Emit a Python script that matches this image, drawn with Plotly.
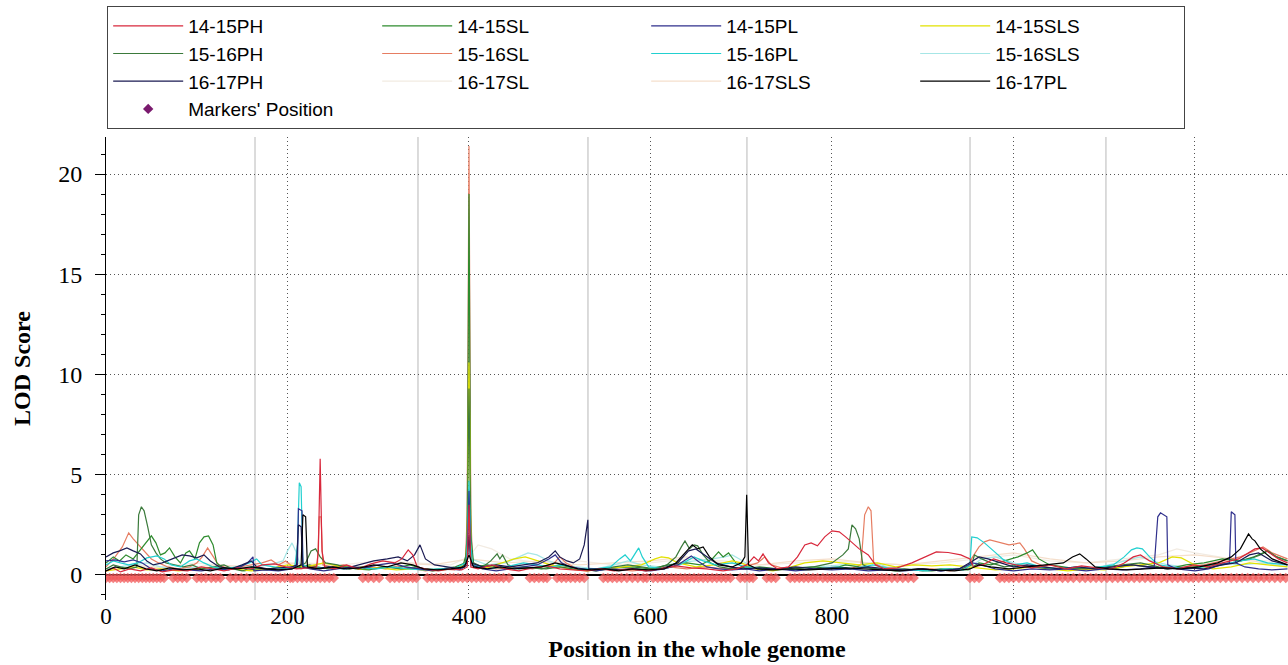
import plotly.graph_objects as go

# ---------------- data (position in genome, LOD score) ----------------
PH_1415 = [(0,0.2),(8,0.35),(16,0.15),(26,0.3),(38,0.2),(50,0.35),(62,0.15),(75,0.25),(90,0.2),(105,0.4),(118,0.3),(130,0.2),(145,0.35),(160,0.3),(172,0.5),(186,0.55),(198,0.4),(210,0.3),(222,0.35),(232,0.4),(234,1.2),(236,5.8),(238,1.2),(241,0.4),(252,0.3),(265,0.5),(278,0.3),(292,0.55),(305,0.7),(318,0.6),(326,0.8),(333,1.25),(338,1.0),(343,0.4),(352,0.3),(366,0.2),(380,0.3),(392,0.25),(398,0.4),(400,3.5),(402,0.4),(410,0.3),(425,0.5),(440,0.3),(455,0.2),(470,0.35),(485,0.45),(500,0.3),(515,0.25),(530,0.2),(545,0.3),(560,0.2),(578,0.3),(595,0.2),(612,0.3),(628,0.45),(645,0.35),(662,0.3),(680,0.2),(695,0.3),(706,0.5),(714,0.9),(719,0.7),(724,1.05),(730,0.6),(740,0.3),(752,0.4),(762,0.9),(770,1.5),(777,1.6),(784,1.45),(792,1.9),(800,2.2),(808,2.15),(815,1.9),(822,1.6),(830,1.3),(840,1.0),(848,0.5),(858,0.3),(872,0.35),(888,0.6),(902,0.9),(915,1.15),(928,1.12),(942,1.0),(952,0.8),(956,0.4),(966,0.5),(978,0.8),(992,0.6),(1005,0.5),(1020,0.35),(1040,0.5),(1058,0.3),(1075,0.45),(1092,0.35),(1108,0.3),(1122,0.6),(1132,0.9),(1140,1.0),(1150,0.7),(1165,0.4),(1182,0.3),(1198,0.5),(1215,0.4),(1230,0.6),(1248,0.8),(1258,1.1),(1266,1.3),(1274,1.35),(1282,1.1),(1292,0.8),(1302,0.6)]

SL_1415 = [(0,0.6),(8,0.9),(15,0.7),(22,1.0),(30,0.8),(40,1.4),(46,1.75),(50,1.95),(55,1.6),(60,1.0),(65,1.1),(70,1.35),(76,0.9),(82,0.6),(88,1.1),(92,1.2),(98,0.8),(103,1.6),(108,1.9),(113,1.95),(118,1.5),(122,0.6),(130,0.3),(140,0.35),(152,0.2),(165,0.3),(178,0.25),(190,0.4),(200,0.3),(212,0.35),(224,0.5),(232,0.4),(245,0.3),(260,0.45),(275,0.3),(290,0.25),(305,0.4),(320,0.35),(335,0.5),(350,0.3),(365,0.25),(380,0.3),(393,0.4),(398,1.2),(400,19.0),(402,1.2),(406,0.4),(420,0.5),(440,0.3),(460,0.4),(480,0.3),(500,0.5),(520,0.3),(540,0.2),(560,0.35),(580,0.4),(600,0.3),(620,0.5),(640,0.6),(655,0.5),(668,0.8),(675,1.15),(680,0.9),(686,1.1),(694,0.6),(705,0.3),(720,0.4),(740,0.3),(760,0.35),(780,0.4),(800,0.3),(815,0.5),(830,0.4),(850,0.3),(870,0.2),(890,0.25),(910,0.2),(930,0.3),(950,0.25),(962,0.6),(975,0.5),(990,0.7),(1005,0.9),(1015,1.1),(1021,1.25),(1028,0.8),(1040,0.5),(1055,0.4),(1070,0.3),(1090,0.35),(1110,0.3),(1130,0.5),(1150,0.4),(1170,0.3),(1190,0.5),(1210,0.6),(1230,0.8),(1250,0.7),(1265,0.9),(1280,1.2),(1290,0.9),(1302,0.7)]

PL_1415 = [(0,0.7),(10,0.75),(20,0.65),(30,0.75),(40,0.6),(50,0.3),(62,0.2),(75,0.3),(90,0.25),(105,0.2),(120,0.3),(135,0.25),(148,0.4),(156,0.6),(162,0.9),(163,0.2),(175,0.25),(190,0.2),(205,0.3),(211,0.5),(212,3.3),(216,3.2),(217,0.4),(225,0.3),(240,0.2),(255,0.3),(270,0.4),(285,0.35),(300,0.5),(315,0.6),(330,0.4),(345,0.3),(360,0.2),(375,0.3),(390,0.25),(398,0.5),(400,4.2),(402,0.5),(415,0.3),(430,0.2),(445,0.3),(460,0.4),(475,0.5),(488,0.8),(495,1.0),(502,0.6),(512,0.4),(525,0.3),(540,0.2),(555,0.3),(570,0.25),(585,0.3),(600,0.2),(615,0.3),(630,0.5),(640,0.8),(645,0.95),(652,0.7),(662,0.4),(675,0.3),(690,0.25),(705,0.3),(720,0.2),(740,0.3),(760,0.2),(780,0.3),(800,0.25),(820,0.3),(840,0.2),(860,0.25),(880,0.2),(900,0.3),(920,0.2),(940,0.3),(955,0.6),(965,0.5),(980,0.3),(1000,0.2),(1020,0.3),(1040,0.25),(1060,0.3),(1080,0.2),(1100,0.3),(1120,0.25),(1140,0.3),(1155,0.4),(1159,2.9),(1162,3.1),(1166,3.0),(1169,2.9),(1170,0.5),(1180,0.3),(1200,0.2),(1215,0.3),(1228,0.5),(1238,0.6),(1240,3.15),(1244,3.0),(1245,0.6),(1255,0.4),(1270,0.3),(1285,0.25),(1302,0.3)]

SLS_1415 = [(0,0.2),(15,0.3),(30,0.4),(45,0.25),(60,0.3),(80,0.2),(100,0.3),(120,0.4),(140,0.3),(160,0.2),(180,0.3),(200,0.5),(220,0.4),(240,0.6),(260,0.4),(280,0.3),(300,0.35),(320,0.25),(340,0.3),(360,0.2),(380,0.3),(396,0.5),(398,2.0),(400,10.6),(402,2.0),(404,0.5),(415,0.3),(430,0.5),(450,0.8),(462,0.9),(475,0.7),(490,0.5),(510,0.3),(530,0.2),(550,0.3),(570,0.4),(590,0.5),(605,0.8),(612,0.9),(620,0.85),(630,0.6),(650,0.4),(670,0.5),(690,0.7),(700,0.6),(715,0.3),(735,0.2),(755,0.4),(770,0.6),(790,0.7),(810,0.6),(830,0.5),(850,0.6),(870,0.4),(890,0.5),(910,0.45),(930,0.5),(950,0.4),(965,0.3),(980,0.25),(1000,0.3),(1020,0.4),(1040,0.3),(1060,0.2),(1080,0.3),(1100,0.25),(1120,0.4),(1140,0.5),(1160,0.6),(1175,0.9),(1185,0.85),(1200,0.5),(1220,0.3),(1240,0.4),(1260,0.6),(1280,0.5),(1302,0.4)]

PH_1516 = [(0,0.3),(8,0.5),(16,0.4),(26,0.3),(34,0.4),(36,3.0),(39,3.4),(42,3.2),(46,2.4),(50,1.5),(55,1.1),(60,0.8),(66,0.6),(75,0.5),(85,0.4),(95,0.5),(105,0.3),(118,0.4),(130,0.5),(140,0.3),(150,0.2),(162,0.4),(175,0.3),(188,0.25),(200,0.3),(212,0.4),(220,0.6),(226,1.2),(231,1.3),(236,0.9),(242,0.6),(255,0.5),(268,0.3),(282,0.4),(296,0.3),(310,0.4),(325,0.3),(340,0.35),(355,0.25),(370,0.3),(385,0.4),(396,0.6),(398,2.0),(400,9.3),(402,2.0),(405,0.6),(415,0.4),(424,0.7),(431,1.05),(434,0.8),(437,1.0),(443,0.5),(455,0.3),(470,0.35),(485,0.3),(500,0.4),(515,0.3),(530,0.25),(545,0.3),(560,0.4),(575,0.5),(590,0.4),(605,0.3),(618,0.5),(628,0.9),(634,1.4),(638,1.7),(643,1.3),(648,1.5),(652,1.45),(658,1.0),(666,0.6),(676,0.4),(690,0.3),(705,0.4),(720,0.3),(740,0.25),(760,0.3),(780,0.4),(800,0.6),(812,1.0),(818,1.3),(822,2.5),(826,2.3),(830,1.8),(834,0.5),(845,0.3),(860,0.25),(880,0.3),(900,0.2),(920,0.3),(940,0.25),(954,0.5),(957,1.0),(965,0.8),(975,0.6),(990,0.4),(1005,0.5),(1020,0.4),(1040,0.3),(1060,0.35),(1080,0.3),(1100,0.4),(1120,0.5),(1140,0.6),(1160,0.4),(1180,0.3),(1200,0.4),(1220,0.5),(1240,0.6),(1260,0.8),(1272,1.0),(1280,1.2),(1290,0.9),(1302,0.7)]

SL_1516 = [(0,0.4),(10,0.9),(18,1.4),(25,2.1),(30,1.8),(36,1.5),(42,1.2),(50,0.8),(58,0.6),(68,0.4),(80,0.3),(92,0.4),(100,0.6),(106,0.9),(112,1.35),(117,1.0),(124,0.5),(135,0.3),(148,0.4),(160,0.5),(172,0.6),(182,0.75),(190,0.5),(198,0.7),(206,0.4),(215,0.3),(226,0.4),(233,0.5),(235,2.9),(237,2.9),(239,0.5),(248,0.4),(262,0.5),(278,0.3),(292,0.4),(308,0.3),(322,0.45),(338,0.3),(352,0.2),(368,0.3),(384,0.25),(396,0.5),(398,3.0),(400,21.4),(402,3.0),(404,0.5),(415,0.4),(430,0.3),(450,0.4),(470,0.3),(492,0.5),(500,0.9),(507,0.6),(520,0.3),(540,0.25),(560,0.3),(580,0.2),(600,0.3),(620,0.4),(640,0.3),(660,0.4),(680,0.3),(700,0.35),(718,0.6),(726,0.9),(733,0.5),(748,0.3),(765,0.25),(785,0.3),(805,0.4),(820,0.3),(832,0.5),(836,3.0),(840,3.4),(843,3.2),(846,0.6),(855,0.4),(870,0.3),(890,0.25),(910,0.3),(930,0.2),(948,0.3),(955,0.9),(962,1.4),(968,1.65),(974,1.75),(985,1.6),(995,1.5),(1002,1.55),(1007,1.6),(1012,1.3),(1020,0.7),(1035,0.4),(1050,0.3),(1070,0.25),(1090,0.3),(1110,0.4),(1130,0.5),(1150,0.4),(1170,0.3),(1190,0.4),(1210,0.5),(1230,0.7),(1250,0.9),(1265,1.2),(1275,1.4),(1285,1.1),(1302,0.8)]

PL_1516 = [(0,0.5),(8,0.7),(16,0.6),(25,0.5),(35,0.6),(45,0.85),(56,0.95),(64,0.8),(72,0.5),(82,0.4),(92,0.7),(100,0.8),(108,0.6),(118,0.4),(130,0.3),(145,0.4),(158,0.6),(166,0.8),(172,0.5),(185,0.4),(198,0.3),(208,0.4),(211,1.5),(213,4.6),(215,4.4),(217,0.5),(228,0.3),(245,0.4),(262,0.3),(280,0.35),(298,0.3),(315,0.4),(332,0.3),(350,0.25),(368,0.3),(385,0.35),(397,0.6),(398,1.5),(400,4.7),(402,1.5),(404,0.5),(420,0.3),(440,0.4),(460,0.6),(475,0.5),(490,0.4),(505,0.5),(520,0.3),(540,0.3),(556,0.4),(566,0.8),(572,1.0),(578,0.7),(584,1.1),(587,1.35),(591,0.9),(598,0.4),(615,0.3),(632,0.5),(648,0.9),(658,0.7),(672,0.5),(690,0.6),(705,0.4),(725,0.3),(745,0.3),(765,0.25),(785,0.3),(805,0.4),(825,0.3),(845,0.5),(865,0.3),(885,0.25),(905,0.2),(925,0.3),(945,0.25),(952,0.5),(954,1.9),(960,1.85),(968,1.6),(978,1.2),(988,0.8),(1000,0.5),(1015,0.6),(1030,0.4),(1050,0.3),(1070,0.4),(1090,0.35),(1110,0.5),(1122,0.9),(1130,1.25),(1136,1.35),(1142,1.3),(1150,0.9),(1160,0.5),(1175,0.4),(1190,0.3),(1210,0.4),(1230,0.5),(1250,0.7),(1265,0.8),(1280,0.6),(1302,0.5)]

SLS_1516 = [(0,0.3),(15,0.4),(30,0.5),(45,0.6),(60,0.4),(80,0.3),(100,0.4),(120,0.3),(140,0.35),(160,0.4),(180,0.5),(195,0.7),(200,1.2),(205,1.6),(209,1.2),(214,0.5),(230,0.4),(250,0.3),(270,0.4),(290,0.3),(310,0.35),(330,0.4),(350,0.3),(370,0.25),(390,0.3),(398,0.8),(400,1.5),(402,0.8),(420,0.5),(440,0.6),(455,0.9),(465,1.1),(475,1.0),(488,0.7),(500,0.5),(520,0.4),(540,0.3),(560,0.5),(575,0.7),(590,0.5),(610,0.4),(630,0.6),(650,0.7),(668,0.8),(682,0.9),(690,1.0),(698,0.8),(712,0.4),(735,0.3),(760,0.35),(785,0.4),(810,0.5),(830,0.5),(848,0.6),(860,0.4),(880,0.3),(905,0.25),(930,0.3),(950,0.35),(965,0.8),(980,0.9),(1000,0.6),(1020,0.4),(1045,0.35),(1070,0.3),(1095,0.4),(1115,0.6),(1130,0.8),(1140,0.9),(1152,0.7),(1170,0.5),(1190,0.4),(1210,0.5),(1230,0.6),(1250,0.5),(1275,0.6),(1302,0.4)]

PH_1617 = [(0,0.9),(8,1.1),(15,1.2),(23,1.35),(30,1.2),(38,1.05),(45,0.7),(52,0.5),(62,0.6),(72,0.8),(84,1.0),(92,0.95),(100,0.85),(108,1.0),(115,0.7),(125,0.4),(138,0.3),(150,0.5),(160,0.7),(166,0.4),(178,0.3),(192,0.35),(205,0.4),(210,0.5),(212,2.5),(215,2.4),(217,0.4),(230,0.3),(245,0.4),(262,0.3),(280,0.5),(295,0.7),(310,0.8),(322,0.9),(332,0.7),(340,1.0),(346,1.5),(352,0.8),(362,0.5),(375,0.4),(390,0.3),(398,0.6),(400,2.0),(402,0.6),(415,0.4),(430,0.5),(445,0.4),(460,0.5),(475,0.6),(488,0.9),(495,1.2),(500,0.9),(508,0.7),(515,0.6),(522,0.8),(527,1.5),(531,2.75),(532,0.3),(545,0.3),(560,0.25),(578,0.3),(595,0.2),(612,0.3),(630,0.6),(642,1.2),(650,1.3),(660,1.0),(672,0.6),(688,0.4),(702,0.3),(720,0.35),(740,0.3),(760,0.4),(780,0.3),(800,0.35),(820,0.3),(840,0.4),(860,0.3),(880,0.25),(900,0.3),(920,0.2),(940,0.3),(955,0.7),(962,0.9),(972,0.8),(985,0.6),(1000,0.4),(1015,0.5),(1030,0.4),(1050,0.3),(1070,0.4),(1090,0.3),(1110,0.4),(1130,0.5),(1150,0.4),(1170,0.3),(1190,0.35),(1210,0.3),(1230,0.5),(1245,0.6),(1260,1.0),(1270,1.1),(1285,0.7),(1302,0.5)]

SL_1617 = [(0,0.3),(30,0.5),(60,0.4),(100,0.6),(140,0.4),(180,0.5),(220,0.6),(260,0.5),(300,0.7),(340,0.6),(380,0.5),(400,0.9),(410,1.5),(425,1.3),(445,0.8),(480,0.6),(520,0.7),(560,0.5),(600,0.6),(640,0.8),(680,0.7),(720,0.5),(760,0.6),(800,0.7),(840,0.6),(880,0.5),(920,0.6),(960,0.8),(1000,1.0),(1040,0.7),(1080,0.6),(1120,0.8),(1160,1.0),(1180,1.3),(1200,1.1),(1240,0.8),(1280,0.7),(1302,0.6)]

SLS_1617 = [(0,0.2),(40,0.4),(80,0.3),(120,0.5),(160,0.4),(200,0.6),(240,0.5),(280,0.4),(320,0.6),(360,0.5),(400,0.8),(440,0.6),(480,0.7),(520,0.5),(560,0.6),(600,0.7),(640,0.9),(680,0.6),(720,0.5),(760,0.7),(800,0.8),(840,0.6),(880,0.5),(920,0.7),(960,0.9),(1000,1.1),(1040,0.8),(1080,0.6),(1120,0.7),(1160,0.9),(1200,1.0),(1240,0.8),(1280,0.6),(1302,0.5)]

PL_1617 = [(0,0.2),(10,0.4),(20,0.3),(32,0.5),(44,0.3),(56,0.2),(70,0.35),(85,0.25),(100,0.3),(115,0.2),(130,0.35),(145,0.3),(160,0.4),(175,0.3),(190,0.25),(205,0.3),(215,0.5),(217,3.0),(220,2.9),(222,0.4),(235,0.3),(250,0.4),(265,0.3),(280,0.35),(295,0.5),(310,0.4),(325,0.6),(338,0.5),(350,0.3),(365,0.25),(380,0.3),(395,0.4),(400,1.0),(405,0.4),(420,0.3),(435,0.4),(450,0.3),(465,0.35),(480,0.4),(495,0.6),(505,0.5),(520,0.3),(535,0.25),(550,0.3),(565,0.2),(580,0.3),(598,0.25),(615,0.3),(628,0.6),(640,1.2),(646,1.5),(652,1.3),(658,1.4),(665,0.9),(675,0.5),(690,0.4),(700,0.6),(704,0.9),(706,4.0),(708,0.5),(718,0.3),(735,0.25),(755,0.3),(775,0.25),(795,0.3),(815,0.35),(835,0.3),(855,0.25),(875,0.2),(895,0.3),(915,0.25),(935,0.2),(952,0.3),(962,0.5),(975,0.4),(995,0.3),(1015,0.4),(1035,0.5),(1055,0.6),(1065,0.9),(1073,1.05),(1080,0.8),(1090,0.4),(1105,0.3),(1125,0.25),(1145,0.3),(1165,0.35),(1185,0.3),(1205,0.4),(1225,0.6),(1240,0.9),(1250,1.3),(1256,1.8),(1259,2.05),(1263,1.8),(1266,1.7),(1272,1.3),(1285,0.8),(1302,0.5)]

MARKER_POS = [0,4,8,12,16,20,24,28,32,36,40,44,48,52,56,60,64,
              74,79,84,89,100,105,110,116,121,126,137,143,149,155,
              162,167,172,177,182,187,192,197,203,206,211,216,221,226,231,236,241,246,251,
              283,289,295,301,313,318,323,328,333,338,342,354,359,364,369,374,379,383,388,393,
              398,403,408,413,418,423,428,433,438,444,467,472,477,482,486,
              497,502,507,512,517,522,527,548,553,558,563,568,574,580,586,592,596,
              603,608,613,618,623,628,633,638,643,648,653,658,663,668,673,678,683,688,
              699,704,709,713,728,733,738,754,759,764,769,774,779,784,
              790,795,800,805,810,815,820,825,830,835,840,845,850,855,860,866,872,878,884,890,
              952,957,962,985,990,995,1000,1006,1012,1018,1024,1030,1036,1042,1048,1054,1060,1066,
              1073,1079,1085,1091,1097,1103,1109,1115,1121,1127,1133,1139,1145,1151,1157,1163,1169,1175,1181,1187,1193,
              1198,1204,1210,1216,1222,1228,1234,1240,1246,1252,1258,1264,1270,1276,1282,1288,1294,1300]
MARKER_LOD = -0.15

CHROM_BOUNDS = [164.2, 343.8, 531.1, 706.3, 952.1, 1101.9]

# name, data, colour, legend rank
SERIES = {
    "14-15PH": (PH_1415, "#d8283c", 1),
    "14-15SL": (SL_1415, "#2e8b2e", 2),
    "14-15PL": (PL_1415, "#2f2f8c", 3),
    "14-15SLS": (SLS_1415, "#e2e200", 4),
    "15-16PH": (PH_1516, "#3b7a3b", 5),
    "15-16SL": (SL_1516, "#e67d62", 6),
    "15-16PL": (PL_1516, "#22d0d0", 7),
    "15-16SLS": (SLS_1516, "#a6e6e6", 8),
    "16-17PH": (PH_1617, "#1a1a52", 9),
    "16-17SL": (SL_1617, "#f2ebe2", 10),
    "16-17SLS": (SLS_1617, "#f5dfcc", 11),
    "16-17PL": (PL_1617, "#000000", 12),
}
# drawing order (back to front)
DRAW_ORDER = ["16-17SL", "16-17SLS", "15-16SLS", "15-16SL", "14-15SL", "14-15SLS",
              "15-16PH", "15-16PL", "14-15PL", "16-17PH", "14-15PH", "16-17PL"]

# ---------------- figure ----------------
fig = go.Figure()

for name in DRAW_ORDER:
    pts, col, rank = SERIES[name]
    fig.add_trace(go.Scatter(
        x=[p[0] for p in pts], y=[p[1] for p in pts], name=name, mode="lines",
        legendrank=rank, line=dict(color=col, width=1.2), hoverinfo="skip"))

fig.add_trace(go.Scatter(
    x=MARKER_POS, y=[MARKER_LOD] * len(MARKER_POS), mode="markers", showlegend=False,
    marker=dict(symbol="diamond", size=8, color="rgba(242,90,90,0.75)", line=dict(width=0)),
    hoverinfo="skip"))
# legend entry for the markers (purple diamond as in the original key)
fig.add_trace(go.Scatter(
    x=[None], y=[None], mode="markers", name="Markers' Position", legendrank=13,
    marker=dict(symbol="diamond", size=8, color="#7a1a6e")))

for b in CHROM_BOUNDS:
    fig.add_vline(x=b, line=dict(color="#b8b8b8", width=1), layer="below")

serif = "Liberation Serif, Times New Roman, serif"
fig.update_layout(
    width=1288, height=665,
    margin=dict(l=106, r=0, t=137, b=65),
    paper_bgcolor="white", plot_bgcolor="white",
    showlegend=True,
    legend=dict(
        orientation="h", x=0.001, xanchor="left", y=1.283, yanchor="top",
        entrywidth=184, itemwidth=70, traceorder="normal",
        font=dict(family="Liberation Sans, Arial, sans-serif", size=19, color="black"),
        bordercolor="#444444", borderwidth=1, bgcolor="white"),
    xaxis=dict(
        range=[0, 1302.5], tick0=0, dtick=200, showline=False, zeroline=False,
        showgrid=True, gridcolor="#555555", griddash="1px,3px", gridwidth=1,
        ticks="", tickfont=dict(family=serif, size=23, color="black"),
        title=dict(text="Position in the whole genome", standoff=12,
                   font=dict(family=serif, size=24, color="black", weight="bold"))),
    yaxis=dict(
        range=[-1.25, 21.85], tick0=0, dtick=5, showline=True, linecolor="black", linewidth=1,
        zeroline=True, zerolinecolor="black", zerolinewidth=1.5,
        showgrid=True, gridcolor="#555555", griddash="1px,3px", gridwidth=1,
        ticks="outside", ticklen=10, tickcolor="black", ticklabelstandoff=8,
        minor=dict(ticks="outside", ticklen=4, dtick=1, tickcolor="black", showgrid=False),
        tickfont=dict(family=serif, size=24, color="black"),
        title=dict(text="LOD Score", standoff=20,
                   font=dict(family=serif, size=24, color="black", weight="bold"))),
)

fig.write_html("out.html", config={"displayModeBar": False},
               post_script="document.body.style.margin='0';document.body.style.overflow='hidden';")
